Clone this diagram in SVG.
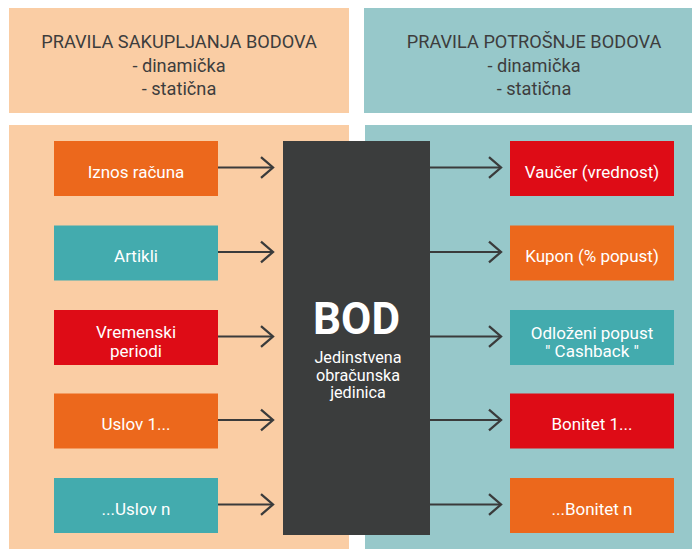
<svg xmlns="http://www.w3.org/2000/svg" width="692" height="549" viewBox="0 0 692 549">
<defs>
<marker id="chev" markerUnits="userSpaceOnUse" markerWidth="16" markerHeight="24" viewBox="-12 -10 14 20" refX="0" refY="0" orient="auto">
<polyline points="-10.5,-9 0,0 -10.5,9" fill="none" stroke="#3a3b3b" stroke-width="2"/>
</marker>
</defs>
<style>
.hdr{font-family:Roboto,"Liberation Sans",sans-serif;font-size:18.2px;fill:#3d3d3d;text-anchor:middle}
.lbl{font-family:Roboto,"Liberation Sans",sans-serif;font-size:17px;fill:#ffffff;text-anchor:middle}
.sm{font-size:16.2px}
.or{fill:#EC681C}.te{fill:#43ABAE}.re{fill:#DE0C16}
.con{stroke:#3a3b3b;stroke-width:2;fill:none;marker-end:url(#chev)}
</style>
<rect width="692" height="549" fill="#ffffff"/>
<g id="header-left">
<rect x="9" y="8" width="340" height="105" fill="#FACDA4"/>
<text class="hdr" x="179" y="48">PRAVILA SAKUPLJANJA BODOVA</text>
<text class="hdr" x="179" y="72">- dinamička</text>
<text class="hdr" x="179" y="95">- statična</text>
</g>
<g id="header-right">
<rect x="364" y="8" width="340" height="105" fill="#97C8CA"/>
<text class="hdr" x="534" y="48">PRAVILA POTROŠNJE BODOVA</text>
<text class="hdr" x="534" y="72">- dinamička</text>
<text class="hdr" x="534" y="95">- statična</text>
</g>
<g id="panel-left"><rect x="9" y="125" width="340" height="424" fill="#FACDA4"/></g>
<g id="panel-right"><rect x="365" y="125" width="340" height="424" fill="#97C8CA"/></g>
<g id="connectors">
<line class="con" x1="218" y1="167.5" x2="273" y2="167.5"/>
<line class="con" x1="218" y1="252" x2="273" y2="252"/>
<line class="con" x1="218" y1="336.5" x2="273" y2="336.5"/>
<line class="con" x1="218" y1="420" x2="273" y2="420"/>
<line class="con" x1="218" y1="504.5" x2="273" y2="504.5"/>
<line class="con" x1="430" y1="167.5" x2="501" y2="167.5"/>
<line class="con" x1="430" y1="252" x2="501" y2="252"/>
<line class="con" x1="430" y1="336.5" x2="501" y2="336.5"/>
<line class="con" x1="430" y1="420" x2="501" y2="420"/>
<line class="con" x1="430" y1="504.5" x2="501" y2="504.5"/>
</g>
<g id="bod">
<rect x="283" y="141" width="147" height="394" fill="#3B3D3D"/>
<text x="356.5" y="333.5" font-family="Roboto,'Liberation Sans',sans-serif" font-weight="bold" font-size="44" fill="#ffffff" text-anchor="middle">BOD</text>
<text class="lbl sm" x="358" y="363">Jedinstvena</text>
<text class="lbl sm" x="358" y="380.5">obračunska</text>
<text class="lbl sm" x="358" y="398">jedinica</text>
</g>
<g id="iznos-racuna"><rect class="or" x="54" y="141" width="164" height="55"/><text class="lbl" x="136" y="177.5">Iznos računa</text></g>
<g id="artikli"><rect class="te" x="54" y="225.5" width="164" height="55"/><text class="lbl" x="136" y="262">Artikli</text></g>
<g id="vremenski-periodi"><rect class="re" x="54" y="310" width="164" height="55"/><text class="lbl" x="136" y="337.5">Vremenski</text><text class="lbl" x="136" y="356.5">periodi</text></g>
<g id="uslov-1"><rect class="or" x="54" y="393.5" width="164" height="55"/><text class="lbl" x="136" y="430">Uslov 1...</text></g>
<g id="uslov-n"><rect class="te" x="54" y="478" width="164" height="55"/><text class="lbl" x="136" y="514.5">...Uslov n</text></g>
<g id="vaucer"><rect class="re" x="510" y="141" width="164" height="55"/><text class="lbl" x="592" y="177.5">Vaučer (vrednost)</text></g>
<g id="kupon"><rect class="or" x="510" y="225.5" width="164" height="55"/><text class="lbl" x="592" y="262">Kupon (% popust)</text></g>
<g id="odlozeni-popust"><rect class="te" x="510" y="310" width="164" height="55"/><text class="lbl" x="592" y="338.5">Odloženi popust</text><text class="lbl" x="592" y="357">" Cashback "</text></g>
<g id="bonitet-1"><rect class="re" x="510" y="393.5" width="164" height="55"/><text class="lbl" x="592" y="430">Bonitet 1...</text></g>
<g id="bonitet-n"><rect class="or" x="510" y="478" width="164" height="55"/><text class="lbl" x="592" y="514.5">...Bonitet n</text></g>
</svg>
